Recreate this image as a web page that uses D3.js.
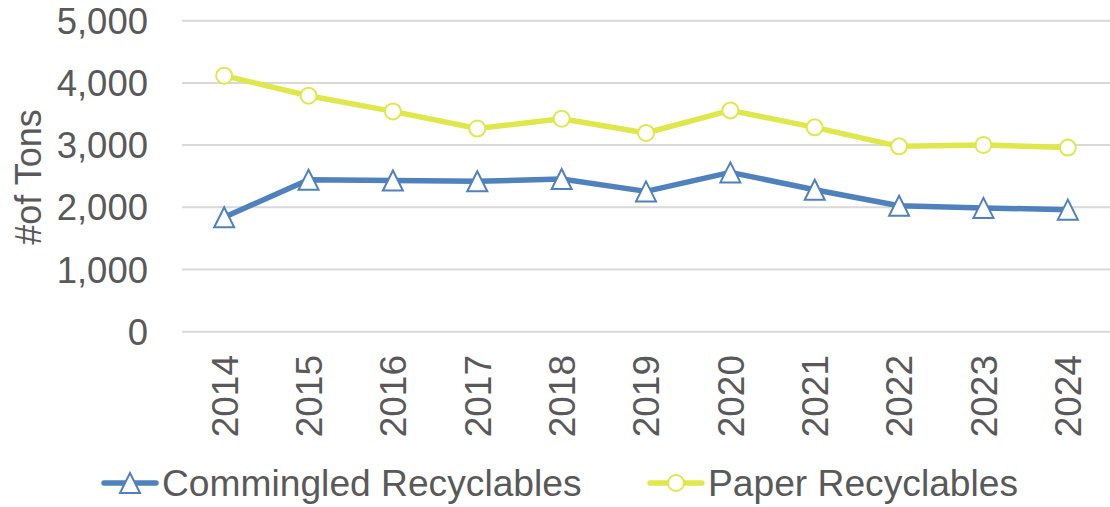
<!DOCTYPE html>
<html><head><meta charset="utf-8">
<script src="https://cdn.jsdelivr.net/npm/d3@7"></script>
<style>body{margin:0;background:#fff}text{font-family:"Liberation Sans",Arial,sans-serif;fill:#595959}</style>
</head><body>
<svg id="c" width="1110" height="507"></svg>
<script>
const years = ["2014","2015","2016","2017","2018","2019","2020","2021","2022","2023","2024"];
const commingled = [1840,2444,2430,2418,2455,2256,2561,2283,2026,1990,1962];
const paper = [4116,3794,3542,3266,3424,3195,3558,3285,2980,3002,2960];
const yTicks = [0,1000,2000,3000,4000,5000];
const seriesNames = ["Commingled Recyclables","Paper Recyclables"];
const colors = ["#4F81BD","#DFE84A"];

const svg = d3.select("#c");
const x = d3.scaleBand().domain(years).range([182,1110]);
const y = d3.scaleLinear().domain([0,5000]).range([331.7,20.7]);
const cx = d => x(d) + x.bandwidth()/2;

// gridlines
svg.append("g").selectAll("line").data(yTicks).join("line")
  .attr("x1",182).attr("x2",1110).attr("y1",d=>y(d)).attr("y2",d=>y(d))
  .attr("stroke","#D9D9D9").attr("stroke-width",2);

// y labels
svg.append("g").selectAll("text").data(yTicks).join("text")
  .attr("x",148).attr("y",d=>y(d)).attr("dy","0.36em").attr("text-anchor","end")
  .attr("font-size",36.5).text(d=>d3.format(",")(d));

// y title
svg.append("text").attr("transform","translate(41,177) rotate(-90)")
  .attr("text-anchor","middle").attr("font-size",36).text("#of Tons");

// x labels
svg.append("g").selectAll("text").data(years).join("text")
  .attr("transform",d=>`translate(${cx(d)},355) rotate(-90)`)
  .attr("text-anchor","end").attr("dy","0.36em").attr("font-size",37).text(d=>d);

const line = d3.line().x((d,i)=>cx(years[i])).y(d=>y(d));
const tri = (s)=>`M0,${-s/2}L${s/2},${s/2}L${-s/2},${s/2}Z`;

// series lines
svg.append("path").datum(commingled).attr("d",line).attr("fill","none")
  .attr("stroke",colors[0]).attr("stroke-width",5.5).attr("stroke-linejoin","round");
svg.append("path").datum(paper).attr("d",line).attr("fill","none")
  .attr("stroke",colors[1]).attr("stroke-width",5.5).attr("stroke-linejoin","round");

// markers
svg.append("g").selectAll("path").data(commingled).join("path")
  .attr("transform",(d,i)=>`translate(${cx(years[i])},${y(d)})`)
  .attr("d",tri(20)).attr("fill","#fff").attr("stroke",colors[0]).attr("stroke-width",2);
svg.append("g").selectAll("circle").data(paper).join("circle")
  .attr("cx",(d,i)=>cx(years[i])).attr("cy",d=>y(d)).attr("r",8)
  .attr("fill","#fff").attr("stroke",colors[1]).attr("stroke-width",2);

// legend
const lg = svg.append("g");
const legY = 483;
const items = [{x0:104,name:seriesNames[0],c:colors[0],m:"tri"},{x0:650,name:seriesNames[1],c:colors[1],m:"circ"}];
items.forEach(it=>{
  lg.append("line").attr("x1",it.x0).attr("x2",it.x0+52).attr("y1",legY).attr("y2",legY)
    .attr("stroke",it.c).attr("stroke-width",5.5).attr("stroke-linecap","round");
  if(it.m==="tri") lg.append("path").attr("transform",`translate(${it.x0+26},${legY})`).attr("d",tri(20))
    .attr("fill","#fff").attr("stroke",it.c).attr("stroke-width",2);
  else lg.append("circle").attr("cx",it.x0+26).attr("cy",legY).attr("r",8)
    .attr("fill","#fff").attr("stroke",it.c).attr("stroke-width",2);
  lg.append("text").attr("x",it.x0+58).attr("y",legY).attr("dy","0.36em").attr("font-size",37.2).text(it.name);
});
</script>
</body></html>
